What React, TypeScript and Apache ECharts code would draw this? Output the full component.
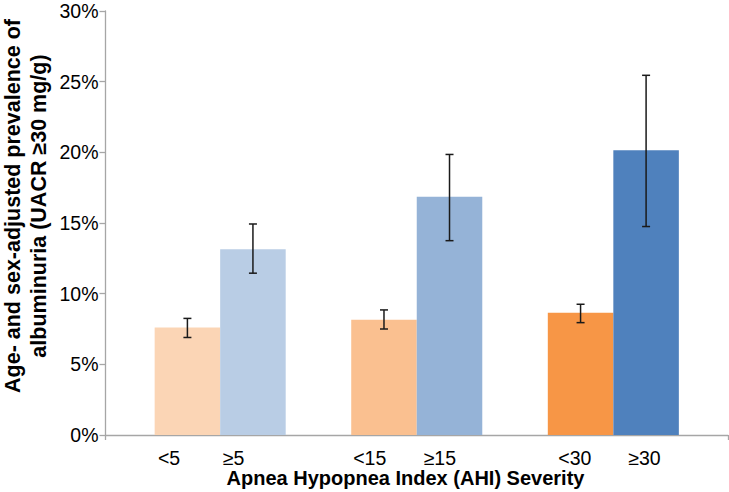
import React, { useEffect, useRef } from "react";
import * as echarts from "echarts";

// ---- data ----
const categories = ["<5", "≥5", "<15", "≥15", "<30", "≥30"];
const prevalence = [7.6, 13.15, 8.15, 16.85, 8.65, 20.15];
const ciLow = [6.9, 11.45, 7.5, 13.75, 7.95, 14.75];
const ciHigh = [8.25, 14.93, 8.85, 19.85, 9.25, 25.45];
// slot of each bar on a 0..38 unit axis (3 groups of 2 adjacent bars)
const barSlots = [5, 9, 17, 21, 29, 33];
// where Excel placed the category labels (same unit axis)
const labelSlots = [3.88, 7.82, 16.13, 20.41, 28.65, 32.9];
const yTicks = [0, 5, 10, 15, 20, 25, 30];
const barColors = ["#FBD5B5", "#B9CDE5", "#FAC090", "#95B3D7", "#F79646", "#4F81BD"];
const xTitle = "Apnea Hypopnea Index (AHI) Severity";
const yTitle = "Age- and sex-adjusted prevalence of\nalbuminuria (UACR ≥30 mg/g)";

const FONT = "'Liberation Sans', Arial, Helvetica, sans-serif";
const UNITS = 38;
const GRID_LEFT = 105.5;
const GRID_RIGHT_EDGE = 728;

export default function App() {
  const ref = useRef<HTMLDivElement>(null);

  useEffect(() => {
    document.body.style.margin = "0";
    if (!ref.current) return;
    const chart = echarts.init(ref.current, null, { renderer: "svg" });
    const plotWidth = GRID_RIGHT_EDGE - GRID_LEFT;
    const barPx = (plotWidth / UNITS) * 4;

    const labelMap: Record<string, string> = {};
    labelSlots.forEach((v, i) => {
      labelMap[String(v)] = categories[i];
    });

    chart.setOption({
      animation: false,
      backgroundColor: "#ffffff",
      grid: {
        left: GRID_LEFT,
        right: 729 - GRID_RIGHT_EDGE,
        top: 11,
        bottom: 57,
        containLabel: false,
      },
      xAxis: {
        type: "value",
        min: 0,
        max: UNITS,
        interval: UNITS,
        splitLine: { show: false },
        axisLine: { show: true, lineStyle: { color: "#A6A6A6", width: 1.3 } },
        axisTick: { show: true, length: 5, lineStyle: { color: "#A6A6A6", width: 1.3 } },
        axisLabel: {
          show: true,
          customValues: labelSlots,
          margin: 13,
          fontSize: 19.5,
          fontFamily: FONT,
          color: "#000",
          formatter: (v: number) => labelMap[String(v)] ?? "",
        },
      },
      yAxis: {
        type: "value",
        min: yTicks[0],
        max: yTicks[yTicks.length - 1],
        interval: 5,
        splitLine: { show: false },
        axisLine: { show: true, lineStyle: { color: "#A6A6A6", width: 1.3 } },
        axisTick: { show: true, length: 6, lineStyle: { color: "#A6A6A6", width: 1.3 } },
        axisLabel: {
          margin: 7,
          fontSize: 19.5,
          fontFamily: FONT,
          color: "#000",
          formatter: "{value}%",
        },
      },
      series: [
        {
          type: "bar",
          barWidth: barPx,
          data: prevalence.map((v, i) => ({
            value: [barSlots[i], v],
            itemStyle: { color: barColors[i] },
          })),
        },
        {
          type: "custom",
          z: 10,
          data: prevalence.map((_, i) => [barSlots[i], ciLow[i], ciHigh[i]]),
          renderItem: (params: any, api: any) => {
            const x = api.value(0);
            const lo = api.coord([x, api.value(1)]);
            const hi = api.coord([x, api.value(2)]);
            const cap = 4;
            const style = { stroke: "#1a1a1a", lineWidth: 1.5 };
            return {
              type: "group",
              children: [
                { type: "line", shape: { x1: lo[0], y1: lo[1], x2: hi[0], y2: hi[1] }, style },
                { type: "line", shape: { x1: hi[0] - cap, y1: hi[1], x2: hi[0] + cap, y2: hi[1] }, style },
                { type: "line", shape: { x1: lo[0] - cap, y1: lo[1], x2: lo[0] + cap, y2: lo[1] }, style },
              ],
            };
          },
        },
      ],
      graphic: [
        {
          type: "text",
          x: 405.5,
          y: 478,
          style: {
            text: xTitle,
            fontSize: 20,
            fontWeight: "bold",
            fontFamily: FONT,
            fill: "#000",
            align: "center",
            verticalAlign: "middle",
          },
        },
        {
          type: "text",
          x: 26,
          y: 206,
          rotation: Math.PI / 2,
          style: {
            text: yTitle,
            fontSize: 21.5,
            lineHeight: 25.5,
            fontWeight: "bold",
            fontFamily: FONT,
            fill: "#000",
            align: "center",
            verticalAlign: "middle",
          },
        },
      ],
    });

    return () => {
      chart.dispose();
    };
  }, []);

  return <div ref={ref} style={{ width: 729, height: 492 }} />;
}
